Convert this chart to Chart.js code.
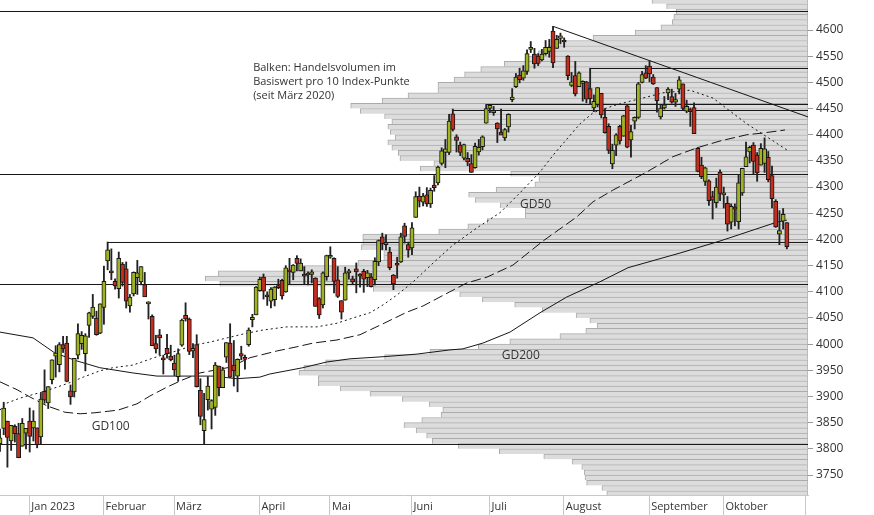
<!DOCTYPE html>
<html><head><meta charset="utf-8">
<script src="https://cdn.jsdelivr.net/npm/chart.js@4.4.0/dist/chart.umd.min.js"></script>
<style>html,body{margin:0;padding:0;background:#fff;}canvas{display:block;}</style>
</head><body>
<canvas id="c" width="874" height="515"></canvas>
<script>
// ---- trading days (categories) ----
const dates = ['2022-12-20','2022-12-21','2022-12-22','2022-12-23','2022-12-27','2022-12-28','2022-12-29','2022-12-30',
'2023-01-03','2023-01-04','2023-01-05','2023-01-06','2023-01-09','2023-01-10','2023-01-11','2023-01-12','2023-01-13','2023-01-17','2023-01-18','2023-01-19','2023-01-20','2023-01-23','2023-01-24','2023-01-25','2023-01-26','2023-01-27','2023-01-30','2023-01-31',
'2023-02-01','2023-02-02','2023-02-03','2023-02-06','2023-02-07','2023-02-08','2023-02-09','2023-02-10','2023-02-13','2023-02-14','2023-02-15','2023-02-16','2023-02-17','2023-02-21','2023-02-22','2023-02-23','2023-02-24','2023-02-27','2023-02-28',
'2023-03-01','2023-03-02','2023-03-03','2023-03-06','2023-03-07','2023-03-08','2023-03-09','2023-03-10','2023-03-13','2023-03-14','2023-03-15','2023-03-16','2023-03-17','2023-03-20','2023-03-21','2023-03-22','2023-03-23','2023-03-24','2023-03-27','2023-03-28','2023-03-29','2023-03-30','2023-03-31',
'2023-04-03','2023-04-04','2023-04-05','2023-04-06','2023-04-10','2023-04-11','2023-04-12','2023-04-13','2023-04-14','2023-04-17','2023-04-18','2023-04-19','2023-04-20','2023-04-21','2023-04-24','2023-04-25','2023-04-26','2023-04-27','2023-04-28',
'2023-05-01','2023-05-02','2023-05-03','2023-05-04','2023-05-05','2023-05-08','2023-05-09','2023-05-10','2023-05-11','2023-05-12','2023-05-15','2023-05-16','2023-05-17','2023-05-18','2023-05-19','2023-05-22','2023-05-23','2023-05-24','2023-05-25','2023-05-26','2023-05-30','2023-05-31',
'2023-06-01','2023-06-02','2023-06-05','2023-06-06','2023-06-07','2023-06-08','2023-06-09','2023-06-12','2023-06-13','2023-06-14','2023-06-15','2023-06-16','2023-06-20','2023-06-21','2023-06-22','2023-06-23','2023-06-26','2023-06-27','2023-06-28','2023-06-29','2023-06-30',
'2023-07-03','2023-07-05','2023-07-06','2023-07-07','2023-07-10','2023-07-11','2023-07-12','2023-07-13','2023-07-14','2023-07-17','2023-07-18','2023-07-19','2023-07-20','2023-07-21','2023-07-24','2023-07-25','2023-07-26','2023-07-27','2023-07-28','2023-07-31',
'2023-08-01','2023-08-02','2023-08-03','2023-08-04','2023-08-07','2023-08-08','2023-08-09','2023-08-10','2023-08-11','2023-08-14','2023-08-15','2023-08-16','2023-08-17','2023-08-18','2023-08-21','2023-08-22','2023-08-23','2023-08-24','2023-08-25','2023-08-28','2023-08-29','2023-08-30','2023-08-31',
'2023-09-01','2023-09-05','2023-09-06','2023-09-07','2023-09-08','2023-09-11','2023-09-12','2023-09-13','2023-09-14','2023-09-15','2023-09-18','2023-09-19','2023-09-20','2023-09-21','2023-09-22','2023-09-25','2023-09-26','2023-09-27','2023-09-28','2023-09-29',
'2023-10-02','2023-10-03','2023-10-04','2023-10-05','2023-10-06','2023-10-09','2023-10-10','2023-10-11','2023-10-12','2023-10-13','2023-10-16','2023-10-17','2023-10-18','2023-10-19','2023-10-20','2023-10-23','2023-10-24','2023-10-25'];

const openV = [3810,3839,3853,3815,3843,3829,3805,3830,
3853,3840,3840,3823,3910,3888,3932,3977,3961,3999,4002,3911,3909,3979,4001,3982,4036,4053,4050,4021,
4070,4159,4137,4120,4106,4153,4144,4073,4096,4127,4119,4114,4077,4053,4001,4018,3973,3992,3977,
3964,3938,3998,4055,4048,3987,3999,3912,3835,3894,3876,3879,3958,3917,3975,4002,3960,3939,3982,3974,3999,4047,4056,
4102,4128,4094,4082,4085,4111,4122,4100,4140,4137,4164,4140,4131,4132,4133,4126,4087,4075,4129,
4166,4164,4123,4083,4084,4136,4125,4144,4133,4139,4127,4128,4123,4157,4205,4190,4176,4132,4155,4157,4226,4190,
4184,4242,4283,4271,4285,4268,4304,4308,4345,4366,4366,4440,4396,4380,4355,4355,4345,4337,4367,4377,4422,
4450,4442,4422,4405,4394,4415,4467,4492,4514,4508,4521,4563,4554,4550,4543,4555,4559,4598,4565,4584,
4578,4550,4494,4513,4492,4498,4501,4488,4451,4458,4479,4433,4416,4344,4380,4416,4397,4455,4390,4426,4433,4500,4518,
4531,4510,4490,4434,4451,4480,4473,4462,4487,4497,4445,4445,4452,4374,4342,4311,4312,4282,4270,4328,
4285,4269,4233,4260,4234,4289,4339,4367,4380,4361,4342,4345,4357,4322,4273,4210,4235,4232];

const highV = [3838,3889,3853,3845,3846,3849,3858,3839,
3878,3873,3840,3906,3951,3919,3970,3997,4003,4015,4015,3922,3973,4039,4024,4020,4061,4095,4063,4077,
4149,4195,4182,4125,4176,4156,4157,4095,4138,4160,4148,4137,4081,4056,4017,4028,3979,4019,3998,
3979,3991,4048,4079,4050,4001,4018,3934,3906,3938,3894,3965,3958,3956,4003,4039,4007,3972,3996,3979,4031,4057,4110,
4128,4134,4100,4108,4110,4124,4124,4150,4164,4152,4169,4163,4148,4138,4142,4127,4089,4138,4170,
4186,4165,4148,4083,4147,4143,4130,4155,4135,4143,4141,4135,4165,4199,4212,4209,4185,4133,4166,4212,4231,4195,
4232,4291,4300,4288,4299,4298,4322,4340,4375,4391,4439,4449,4400,4386,4382,4366,4362,4384,4391,4398,4458,
4456,4454,4423,4449,4412,4440,4488,4517,4527,4532,4562,4578,4565,4555,4563,4580,4582,4607,4590,4594,
4585,4551,4519,4540,4520,4503,4502,4527,4476,4490,4479,4450,4421,4382,4402,4418,4437,4458,4418,4434,4500,4521,4532,
4541,4515,4490,4457,4473,4490,4487,4479,4511,4497,4466,4451,4461,4376,4357,4338,4314,4292,4317,4333,
4300,4282,4268,4268,4324,4336,4386,4378,4385,4366,4383,4394,4368,4340,4276,4255,4259,4232];

const lowV = [3795,3827,3765,3797,3813,3783,3805,3800,
3794,3815,3802,3809,3887,3877,3924,3937,3947,3984,3928,3885,3899,3972,3990,3949,4013,4049,4017,4020,
4038,4142,4123,4105,4088,4111,4069,4061,4092,4095,4113,4091,4048,3997,3983,3979,3943,3973,3968,
3940,3929,3996,4044,3980,3974,3918,3846,3809,3874,3838,3864,3901,3917,3965,3936,3920,3909,3970,3952,3996,4033,4056,
4101,4086,4074,4069,4073,4106,4086,4099,4114,4123,4140,4140,4115,4113,4117,4072,4049,4069,4122,
4164,4098,4089,4048,4084,4124,4115,4098,4109,4099,4110,4109,4113,4150,4180,4180,4142,4104,4126,4156,4193,4166,
4171,4242,4262,4264,4263,4261,4292,4304,4342,4337,4362,4407,4367,4360,4352,4341,4328,4336,4361,4371,4422,
4442,4437,4385,4402,4389,4405,4463,4490,4499,4504,4515,4557,4527,4532,4541,4552,4548,4528,4565,4574,
4567,4505,4492,4474,4492,4464,4461,4458,4444,4453,4432,4403,4364,4335,4360,4382,4397,4375,4357,4411,4431,4499,4507,
4501,4496,4443,4430,4449,4467,4460,4454,4478,4447,4442,4416,4402,4329,4316,4303,4265,4239,4261,4274,
4260,4216,4220,4226,4220,4284,4339,4346,4325,4311,4342,4328,4310,4260,4223,4190,4220,4182];

const closeV = [3821,3878,3822,3845,3829,3783,3849,3839,
3824,3853,3808,3895,3893,3919,3970,3983,3999,3991,3929,3899,3973,4020,4017,4016,4060,4071,4018,4077,
4120,4180,4136,4111,4164,4118,4082,4090,4137,4136,4148,4090,4079,3997,3991,4012,3970,3982,3970,
3951,3982,4046,4048,3986,3992,3919,3862,3856,3920,3892,3960,3917,3951,4003,3937,3949,3971,3977,3971,4027,4051,4109,
4124,4101,4090,4105,4109,4108,4092,4146,4138,4151,4154,4155,4130,4134,4138,4072,4056,4136,4169,
4168,4120,4091,4061,4136,4138,4119,4138,4130,4124,4136,4110,4158,4198,4192,4193,4146,4115,4151,4205,4206,4180,
4222,4282,4273,4283,4268,4294,4299,4338,4369,4373,4426,4410,4389,4366,4381,4348,4328,4378,4376,4396,4450,
4456,4446,4411,4399,4410,4439,4472,4510,4505,4522,4555,4565,4535,4536,4554,4567,4567,4537,4582,4589,
4577,4513,4501,4478,4518,4499,4468,4469,4464,4490,4438,4404,4370,4370,4400,4388,4436,4376,4406,4433,4497,4515,4508,
4516,4497,4465,4451,4457,4487,4462,4467,4505,4450,4454,4444,4402,4330,4320,4337,4274,4275,4300,4288,
4288,4229,4263,4258,4308,4336,4358,4376,4349,4327,4374,4373,4314,4278,4224,4217,4248,4186];

// ---- axis ticks / labels ----
const yTicks = [3750,3800,3850,3900,3950,4000,4050,4100,4150,4200,4250,4300,4350,4400,4450,4500,4550,4600];
const monthLabels = ['Jan 2023','Februar','März','April','Mai','Juni','Juli','August','September','Oktober'];
const monthKeys = ['2023-01','2023-02','2023-03','2023-04','2023-05','2023-06','2023-07','2023-08','2023-09','2023-10'];

// ---- volume profile (Handelsvolumen pro 10 Index-Punkte, relative units) ----
const volLevels = [4650,4640,4630,4620,4610,4600,4590,4580,4570,4560,
4550,4540,4530,4520,4510,4500,4490,4480,4470,4460,
4450,4440,4430,4420,4410,4400,4390,4380,4370,4360,
4350,4340,4330,4320,4310,4300,4290,4280,4270,4260,
4250,4240,4230,4220,4210,4200,4190,4180,4170,4160,
4150,4140,4130,4120,4110,4100,4090,4080,4070,4060,
4050,4040,4030,4020,4010,4000,3990,3980,3970,3960,
3950,3940,3930,3920,3910,3900,3890,3880,3870,3860,
3850,3840,3830,3820,3810,3800,3790,3780,3770,3760,
3750,3740,3730,3720,3710];
const volValues = [19.3,17.5,16.3,16.6,16.8,18.2,21.4,26.6,30.7,32.2,
33.4,35.0,37.6,40.5,42.5,43.8,45.8,45.8,49.5,52.7,
56.6,55.4,52.4,51.5,52.0,51.7,51.1,52.0,51.5,50.7,
50.5,46.3,48.0,36.8,33.3,33.8,38.6,42.0,41.2,38.1,
35.0,35.0,39.7,42.1,45.7,55.1,55.1,55.3,52.5,52.5,
55.7,62.5,73.0,74.6,72.8,53.8,43.1,40.3,36.3,32.9,
28.7,27.0,26.1,27.5,30.7,36.9,40.8,46.8,52.4,59.7,
62.4,63.0,60.6,60.6,57.9,54.2,50.2,46.9,45.2,45.4,
47.8,50.0,48.5,47.2,46.5,43.3,38.2,32.7,29.2,28.0,
27.7,27.6,27.4,25.5,24.9];

// ---- moving averages (x = trading-day position, y = index level) ----
const gd50X = [0,1.3,5.4,11.6,15.4,19.4,22.4,26.9,30.4,35.8,42.3,48.5,52.0,56.6,61.2,66.5,70.9,77.3,85.4,90.8,95.1,99.7,103.2,107.0,111.3,116.7,122.0,128.5,134.7,140.1,145.5,149.5,156.3,159.8,165.1,169.7,174.3,178.6,185.9,192.1,196.7,201.2,206.6,212.0];
const gd50Y = [3874,3886,3897,3909,3918,3928,3937,3949,3955,3960,3976,3989,3998,4004,4012,4021,4027,4033,4033,4040,4050,4060,4075,4094,4119,4155,4189,4222,4251,4289,4329,4365,4421,4442,4455,4464,4472,4480,4485,4470,4445,4421,4396,4371];
const gd100X = [0,4.6,8.1,12.7,17.5,21.6,25.6,31.8,36.9,40.4,45.0,49.3,53.9,62.0,67.3,74.6,80.0,84.3,90.8,97.0,103.2,109.6,114.0,121.2,125.8,131.2,138.2,146.3,155.4,159.8,165.1,174.3,181.3,187.8,194.0,201.2,205.3,211.5];
const gd100Y = [3928,3913,3899,3882,3870,3867,3869,3874,3886,3901,3918,3932,3945,3956,3974,3987,3995,4002,4008,4018,4039,4061,4073,4100,4117,4128,4151,4197,4243,4272,4294,4329,4358,4375,4388,4400,4403,4409];
const gd200X = [0,8.9,14.8,20.7,26.9,35.8,42.3,48.5,57.4,63.8,70.0,72.7,81.6,88.1,94.3,103.2,112.3,121.2,124.7,130.1,137.4,145.5,152.7,161.6,169.2,183.2,194.0,209.3,212.0];
const gd200Y = [4023,4012,3983,3968,3955,3945,3939,3939,3939,3934,3937,3943,3955,3966,3972,3976,3981,3989,3991,4002,4023,4060,4090,4119,4146,4174,4197,4233,4237];

// ---- support / resistance levels ----
const levelValues = [4635.34,4526.47,4457.72,4446.26,4324.02,4194.15,4113.93,3808.35];
const levelStart  = [null,'2023-08-10','2023-06-30','2023-06-16',null,'2023-02-02',null,null];
const trendStartDate = '2023-07-27', trendStartValue = 4607, trendEndValue = 4434;

// ---- chart construction ----
const X_MIN = 0, X_MAX = 217.7;
const Y_MIN = 3711.9, Y_MAX = 4657.3;
const idx = d => dates.indexOf(d);
const monthTicks = monthKeys.map(k => dates.findIndex(d => d.startsWith(k)) - 0.1);
const tickLabels = monthLabels.concat(['']);
const allXTicks = monthTicks.concat([217.06]);

const GREEN = '#a0b322', RED = '#c22f1f', INK = '#161616';

const datasets = [];
datasets.push({
  type:'bar', indexAxis:'y', xAxisID:'xv', yAxisID:'y', order:10, grouped:false,
  data: volLevels.map((v,k)=>({y:v+5, x:volValues[k]})),
  backgroundColor:'#dcdcdc', borderColor:'#ababab', borderWidth:1, borderSkipped:'bottom',
  barThickness: 5.236
});
levelValues.forEach((v,k)=>{
  const s = levelStart[k] ? idx(levelStart[k]) : X_MIN;
  datasets.push({type:'line', order:5, data:[{x:s,y:v},{x:X_MAX,y:v}], borderColor:INK, borderWidth:1, pointRadius:0});
});
datasets.push({type:'line', order:5, data:[{x:idx(trendStartDate),y:trendStartValue},{x:X_MAX,y:trendEndValue}], borderColor:INK, borderWidth:1, pointRadius:0});
datasets.push({type:'line', order:4, data:gd50X.map((x,k)=>({x, y:gd50Y[k]})), borderColor:INK, borderWidth:1, borderDash:[2,3], pointRadius:0});
datasets.push({type:'line', order:4, data:gd100X.map((x,k)=>({x, y:gd100Y[k]})), borderColor:INK, borderWidth:1, borderDash:[10,4], pointRadius:0});
datasets.push({type:'line', order:4, data:gd200X.map((x,k)=>({x, y:gd200Y[k]})), borderColor:INK, borderWidth:1, pointRadius:0});
datasets.push({
  type:'bar', order:2, grouped:false, xAxisID:'x', yAxisID:'y',
  data: dates.map((d,i)=>({x:i, y:[lowV[i], highV[i]]})),
  backgroundColor:'#222', borderWidth:0, barThickness:1.2
});
datasets.push({
  type:'bar', order:1, grouped:false, xAxisID:'x', yAxisID:'y',
  data: dates.map((d,i)=>({x:i, y:[openV[i], closeV[i]]})),
  backgroundColor: dates.map((d,i)=> closeV[i] >= openV[i] ? GREEN : RED),
  borderColor:INK, borderWidth:1, borderSkipped:false, barThickness:4.2, minBarLength:2
});

const textPlugin = {
  id:'texts',
  afterDatasetsDraw(chart){
    const {ctx, scales:{x, y}} = chart;
    ctx.save();
    ctx.fillStyle = '#333';
    ctx.font = '11px "Open Sans"';
    ctx.textBaseline = 'alphabetic';
    ctx.textAlign = 'left';
    const note = ['Balken: Handelsvolumen im','Basiswert pro 10 Index-Punkte','(seit März 2020)'];
    const noteY = [4522.3, 4495.5, 4468.8];
    note.forEach((t,k)=> ctx.fillText(t, x.getPixelForValue(68.2), y.getPixelForValue(noteY[k])));
    ctx.font = '12px "Open Sans"';
    ctx.textBaseline = 'middle';
    ctx.fillText('GD50', x.getPixelForValue(140.1), y.getPixelForValue(4266));
    ctx.fillText('GD200', x.getPixelForValue(135.2), y.getPixelForValue(3979));
    ctx.fillText('GD100', x.getPixelForValue(24.7), y.getPixelForValue(3842));
    ctx.restore();
  }
};

new Chart(document.getElementById('c'), {
  type:'bar',
  data:{datasets},
  options:{
    responsive:false, animation:false, devicePixelRatio:1, events:[],
    layout:{padding:0},
    plugins:{legend:{display:false}, tooltip:{enabled:false}},
    scales:{
      x:{type:'linear', position:'bottom', min:X_MIN, max:X_MAX, offset:false,
        grid:{drawOnChartArea:false, drawTicks:true, tickLength:20, color:'#c8c8c8', offset:false},
        border:{display:true, color:'#c8c8c8'},
        afterBuildTicks:s=>{ s.ticks = allXTicks.map(v=>({value:v})); },
        ticks:{autoSkip:false, maxRotation:0, minRotation:0, align:'start', labelOffset:2, padding:-14.5,
          color:'#333', font:{family:'Open Sans', size:11},
          callback:(v,i)=> tickLabels[i] ?? ''},
        afterFit:s=>{ s.height = 20; s.paddingLeft = 0; s.paddingRight = 0; }
      },
      xv:{type:'linear', axis:'x', display:false, reverse:true, min:0, max:100, offset:false, grid:{offset:false}},
      y:{type:'linear', position:'right', min:Y_MIN, max:Y_MAX, offset:false, beginAtZero:false,
        grid:{drawOnChartArea:false, drawTicks:true, tickLength:5, color:'#999', offset:false},
        border:{display:false},
        afterBuildTicks:s=>{ s.ticks = yTicks.map(v=>({value:v})); },
        ticks:{padding:3, color:'#333', font:{family:'Open Sans', size:12}, callback:v=>String(v)},
        afterFit:s=>{ s.width = 66; s.paddingTop = 0; s.paddingBottom = 0; }
      }
    }
  },
  plugins:[textPlugin]
});
</script>
</body></html>
